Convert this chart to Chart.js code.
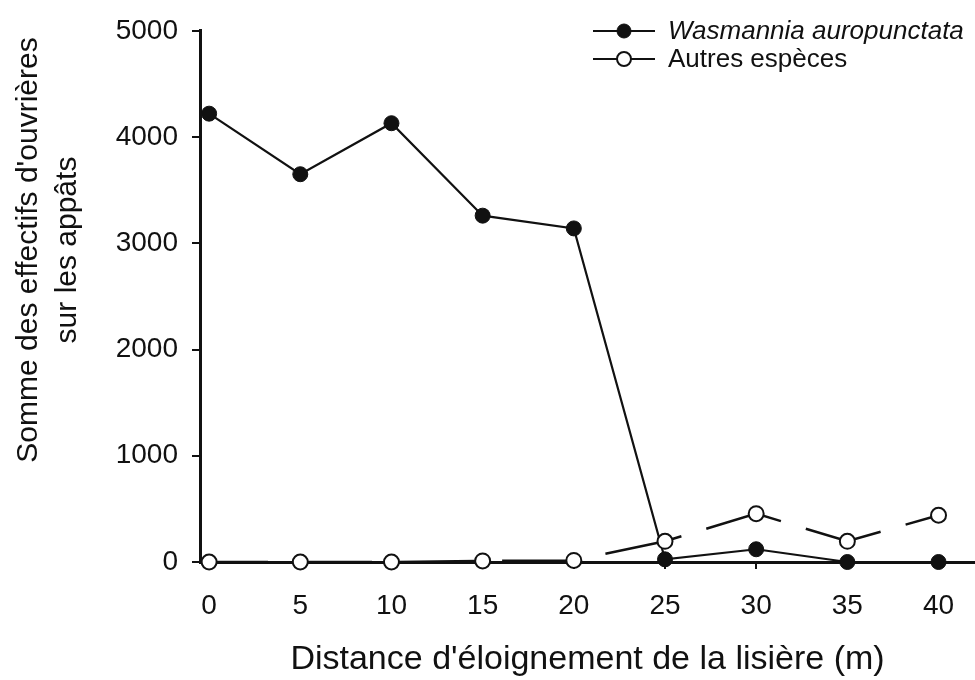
<!DOCTYPE html>
<html>
<head>
<meta charset="utf-8">
<script src="https://cdn.jsdelivr.net/npm/chart.js@4/dist/chart.umd.min.js"></script>
<style>
  html, body { margin: 0; padding: 0; background: #fff; }
  #wrap { width: 975px; height: 680px; position: relative; }
</style>
</head>
<body>
<div id="wrap"><canvas id="c" width="975" height="680"></canvas></div>
<script>
// Distance from the forest edge (m)
const distances = [0, 5, 10, 15, 20, 25, 30, 35, 40];
// Summed worker counts on baits
const wasmannia = [4220, 3650, 4130, 3260, 3140, 25, 120, 0, 0];
const autres = [0, 0, 0, 10, 15, 195, 455, 195, 440];
// Axis ticks
const xTicks = [0, 5, 10, 15, 20, 25, 30, 35, 40];
const yTicks = [0, 1000, 2000, 3000, 4000, 5000];

const seriesNames = ['Wasmannia auropunctata', 'Autres espèces'];
const yTitleLines = ["Somme des effectifs d'ouvrières", 'sur les appâts'];
const xTitle = "Distance d'éloignement de la lisière (m)";

const FONT = '"Liberation Sans", Arial, Helvetica, sans-serif';
const INK = '#111';

// Rotated two-line title for the value axis
const yTitlePlugin = {
  id: 'yTitle',
  afterDraw(chart) {
    const ctx = chart.ctx;
    ctx.save();
    ctx.fillStyle = INK;
    ctx.font = '30px ' + FONT;
    ctx.textAlign = 'center';
    ctx.textBaseline = 'middle';
    const xs = [29, 68];
    yTitleLines.forEach((t, i) => {
      ctx.save();
      ctx.translate(xs[i], 250);
      ctx.rotate(-Math.PI / 2);
      ctx.fillText(t, 0, 0);
      ctx.restore();
    });
    ctx.restore();
  }
};

// Legend: a short line with the series marker in its middle, then the name
const legendPlugin = {
  id: 'lineLegend',
  afterDraw(chart) {
    const ctx = chart.ctx;
    const rows = [{ ds: 0, y: 31, italic: true }, { ds: 1, y: 59, italic: false }];
    ctx.save();
    rows.forEach(r => {
      const ds = chart.data.datasets[r.ds];
      ctx.strokeStyle = INK;
      ctx.lineWidth = 2;
      ctx.setLineDash([]);
      ctx.beginPath();
      ctx.moveTo(593, r.y);
      ctx.lineTo(655, r.y);
      ctx.stroke();
      ctx.beginPath();
      ctx.arc(624, r.y, 7, 0, Math.PI * 2);
      ctx.fillStyle = ds.pointBackgroundColor;
      ctx.fill();
      ctx.lineWidth = ds.pointBorderWidth;
      ctx.strokeStyle = ds.pointBorderColor;
      ctx.stroke();
      ctx.fillStyle = INK;
      ctx.font = (r.italic ? 'italic ' : '') + '26px ' + FONT;
      ctx.textAlign = 'left';
      ctx.textBaseline = 'middle';
      ctx.fillText(ds.label, 668, r.y + 1);
    });
    ctx.restore();
  }
};

new Chart(document.getElementById('c'), {
  type: 'line',
  data: {
    datasets: [
      {
        label: seriesNames[0],
        data: distances.map((d, i) => ({ x: d, y: wasmannia[i] })),
        borderColor: INK,
        borderWidth: 2.2,
        pointRadius: 7.5,
        pointBackgroundColor: INK,
        pointBorderColor: INK,
        pointBorderWidth: 1,
        tension: 0,
        clip: false,
        order: 1
      },
      {
        label: seriesNames[1],
        data: distances.map((d, i) => ({ x: d, y: autres[i] })),
        borderColor: INK,
        borderWidth: 2.5,
        borderDash: [78, 26],
        borderDashOffset: 19,
        pointRadius: 7.5,
        pointBackgroundColor: '#fff',
        pointBorderColor: INK,
        pointBorderWidth: 2,
        tension: 0,
        clip: false,
        order: 0
      }
    ]
  },
  plugins: [yTitlePlugin, legendPlugin],
  options: {
    responsive: false,
    animation: false,
    events: [],
    layout: { autoPadding: false, padding: { top: 20, right: 0, left: 0, bottom: 0 } },
    plugins: { legend: { display: false }, tooltip: { enabled: false } },
    scales: {
      x: {
        type: 'linear',
        min: -0.5,
        max: 42,
        afterBuildTicks(scale) { scale.ticks = xTicks.map(v => ({ value: v })); },
        afterFit(scale) { scale.height = 118; },
        border: { display: true, color: INK, width: 3 },
        grid: { drawOnChartArea: false, drawTicks: true, tickLength: 7, color: INK, lineWidth: 2 },
        ticks: { color: INK, font: { family: FONT, size: 28 }, padding: 20, maxRotation: 0,
                 callback: v => String(v) },
        title: { display: true, text: xTitle, color: INK, font: { family: FONT, size: 34 }, padding: { top: 0, bottom: 0 } }
      },
      y: {
        type: 'linear',
        min: 0,
        max: 5000,
        afterBuildTicks(scale) { scale.ticks = yTicks.map(v => ({ value: v })); },
        afterFit(scale) { scale.width = 200; },
        border: { display: true, color: INK, width: 3 },
        grid: { drawOnChartArea: false, drawTicks: true, tickLength: 8, color: INK, lineWidth: 2 },
        ticks: { color: INK, font: { family: FONT, size: 28 }, padding: 14,
                 callback: v => String(v) }
      }
    }
  }
});
</script>
</body>
</html>
